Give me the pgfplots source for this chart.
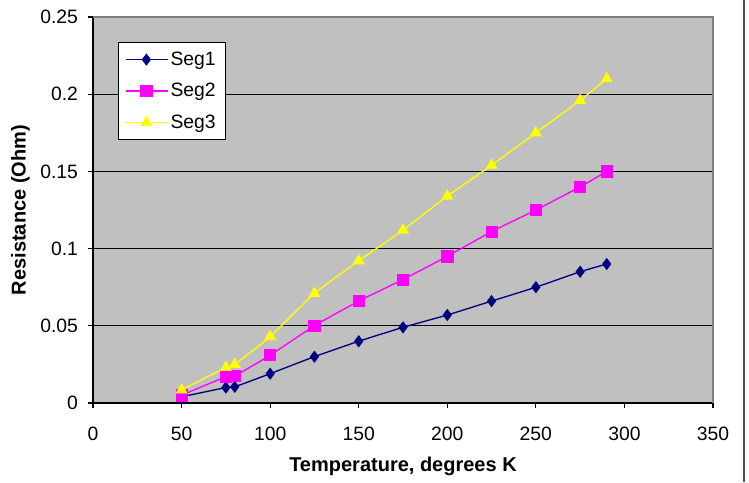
\documentclass[border=0pt]{standalone}
\usepackage{pgfplots}
\pgfplotsset{compat=1.18}
\usepackage{fontspec}
\setmainfont{Liberation Sans}
\definecolor{segnavy}{HTML}{000080}
\definecolor{segmag}{HTML}{FF00FF}
\definecolor{segyel}{HTML}{FFFF00}
\definecolor{plotbg}{HTML}{C0C0C0}
\begin{document}
\begin{tikzpicture}
\path[use as bounding box] (0,0) rectangle (561.75pt,361.5pt);
\draw[gray!60!black, line width=1.6pt] (558pt,0) -- (558pt,361.5pt);
\begin{axis}[
  at={(69.75pt,59.25pt)}, anchor=south west,
  scale only axis,
  width=465pt, height=289.5pt,
  xmin=0, xmax=350, ymin=0, ymax=0.25,
  xtick={0,50,...,350},
  ytick={0,0.05,...,0.25},
  yticklabels={0,0.05,0.1,0.15,0.2,0.25},
  axis x line*=bottom, axis y line*=left,
  axis line style={black, line width=0.8pt, -},
  axis background/.style={fill=plotbg},
  ymajorgrids, grid style={black, line width=0.7pt},
  tick align=outside, major tick length=3.75pt,
  tick style={black, line width=0.8pt},
  every tick label/.append style={font=\fontsize{14.5}{17}\selectfont},
  /pgf/number format/assume math mode=true,
  xticklabel style={yshift=-11pt},
  yticklabel style={xshift=-4pt},
  xlabel={\bfseries Temperature, degrees K},
  ylabel={\bfseries Resistance (Ohm)},
  label style={font=\fontsize{15}{18}\selectfont},
  xlabel style={yshift=-5pt},
  ylabel style={yshift=1pt},
  legend style={at={(0.040,0.935)}, anchor=north west, fill=white,
    draw=black, line width=0.6pt, font=\fontsize{14.5}{17}\selectfont,
    row sep=8pt, inner xsep=5pt, inner ysep=5pt},
  legend cell align=left,
  legend image code/.code={
    \draw[mark repeat=2,mark phase=2] plot coordinates {(0cm,0cm) (0.55cm,0cm) (1.1cm,0cm)};},
  clip=false,
]
\draw[gray, line width=1.2pt] (rel axis cs:0,1) -- (rel axis cs:1,1) -- (rel axis cs:1,0);

\addplot[segnavy, line width=1pt, smooth, tension=0.3, mark=diamond*, mark size=4.2pt,
  mark options={fill=segnavy, line width=0.5pt}]
  table[row sep=crcr]{
    x y \\
    50 0.004 \\
    75 0.010 \\
    80 0.0105 \\
    100 0.019 \\
    125 0.030 \\
    150 0.040 \\
    175 0.049 \\
    200 0.057 \\
    225 0.066 \\
    250 0.075 \\
    275 0.085 \\
    290 0.090 \\
  };
\addlegendentry{Seg1}

\addplot[segmag, line width=1pt, smooth, tension=0.3, mark=square*, mark size=4.2pt,
  mark options={fill=segmag, line width=0.5pt}]
  table[row sep=crcr]{
    x y \\
    50 0.005 \\
    75 0.017 \\
    80 0.0175 \\
    100 0.031 \\
    125 0.050 \\
    150 0.066 \\
    175 0.080 \\
    200 0.095 \\
    225 0.111 \\
    250 0.125 \\
    275 0.140 \\
    290 0.150 \\
  };
\addlegendentry{Seg2}

\addplot[segyel, line width=1pt, smooth, tension=0.3, mark=triangle*, mark size=4.7pt,
  mark options={fill=segyel, line width=0.5pt}]
  table[row sep=crcr]{
    x y \\
    50 0.0085 \\
    75 0.023 \\
    80 0.025 \\
    100 0.043 \\
    125 0.071 \\
    150 0.092 \\
    175 0.112 \\
    200 0.134 \\
    225 0.154 \\
    250 0.175 \\
    275 0.196 \\
    290 0.210 \\
  };
\addlegendentry{Seg3}
\end{axis}
\end{tikzpicture}
\end{document}
